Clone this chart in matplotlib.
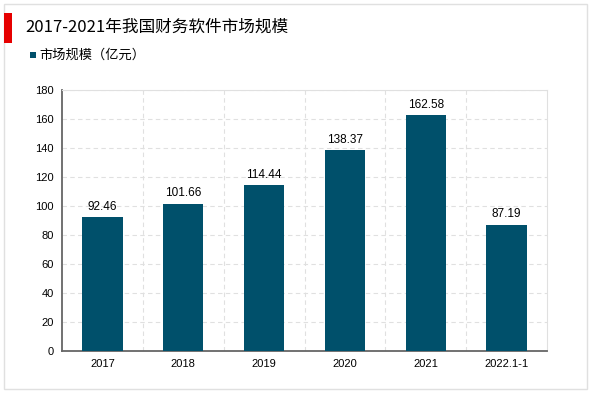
import matplotlib.pyplot as plt
from matplotlib.patches import Rectangle

plt.rcParams['font.family'] = ['Noto Sans CJK SC', 'DejaVu Sans']

categories = ["2017", "2018", "2019", "2020", "2021", "2022.1-1"]
values = [92.46, 101.66, 114.44, 138.37, 162.58, 87.19]
yticks = [0, 20, 40, 60, 80, 100, 120, 140, 160, 180]

bar_color = "#00506B"
num_font = ["Liberation Sans", "DejaVu Sans"]

fig = plt.figure(figsize=(6.0, 3.93), dpi=100)
ax = fig.add_axes([62 / 600, 1 - 351 / 393, (547 - 62) / 600, (351 - 90) / 393])

x = list(range(len(categories)))
ax.bar(x, values, width=0.5, color=bar_color, zorder=3)
for xi, v in zip(x, values):
    ax.text(xi, v + 3, f"{v:.2f}", ha="center", va="bottom", fontsize=8.5,
            family=num_font, zorder=4)

ax.set_xlim(-0.5, len(categories) - 0.5)
ax.set_ylim(0, 180)
ax.set_yticks(yticks)
ax.set_xticks(x)
ax.set_xticklabels(categories, fontsize=8, family=num_font)
for lbl in ax.get_yticklabels():
    lbl.set_fontsize(8)
    lbl.set_family(num_font)
ax.tick_params(axis="both", length=0, pad=6)

# dashed grid: horizontal at ticks, vertical between categories
ax.grid(axis="y", linestyle=(0, (4, 3)), color="#e0e0e0", linewidth=0.8, zorder=0)
for b in [i + 0.5 for i in x[:-1]]:
    ax.axvline(b, linestyle=(0, (4, 3)), color="#e0e0e0", linewidth=0.8, zorder=0)

ax.spines["left"].set_color("#666666")
ax.spines["left"].set_linewidth(1.3)
ax.spines["bottom"].set_color("#666666")
ax.spines["bottom"].set_linewidth(1.3)
ax.spines["top"].set_color("#e0e0e0")
ax.spines["right"].set_color("#e0e0e0")

# outer frame
fig.patches.append(Rectangle((4 / 600, 4 / 393), 583 / 600, 385 / 393, transform=fig.transFigure,
                             fill=False, edgecolor="#e0e0e0", linewidth=1))
# red marker by title
fig.patches.append(Rectangle((4 / 600, 1 - 43 / 393), 8 / 600, 30 / 393, transform=fig.transFigure,
                             facecolor="#e60000", edgecolor="none"))

fig.text(25 / 600, 1 - 27 / 393, "2017-2021年我国财务软件市场规模", fontsize=12, va="center", ha="left")

# legend
fig.patches.append(Rectangle((30 / 600, 1 - 58 / 393), 6 / 600, 6 / 393, transform=fig.transFigure,
                             facecolor=bar_color, edgecolor="none"))
fig.text(39 / 600, 1 - 55 / 393, "市场规模（亿元）", fontsize=9.5, va="center", ha="left")

fig.savefig("out.png", dpi=100)
